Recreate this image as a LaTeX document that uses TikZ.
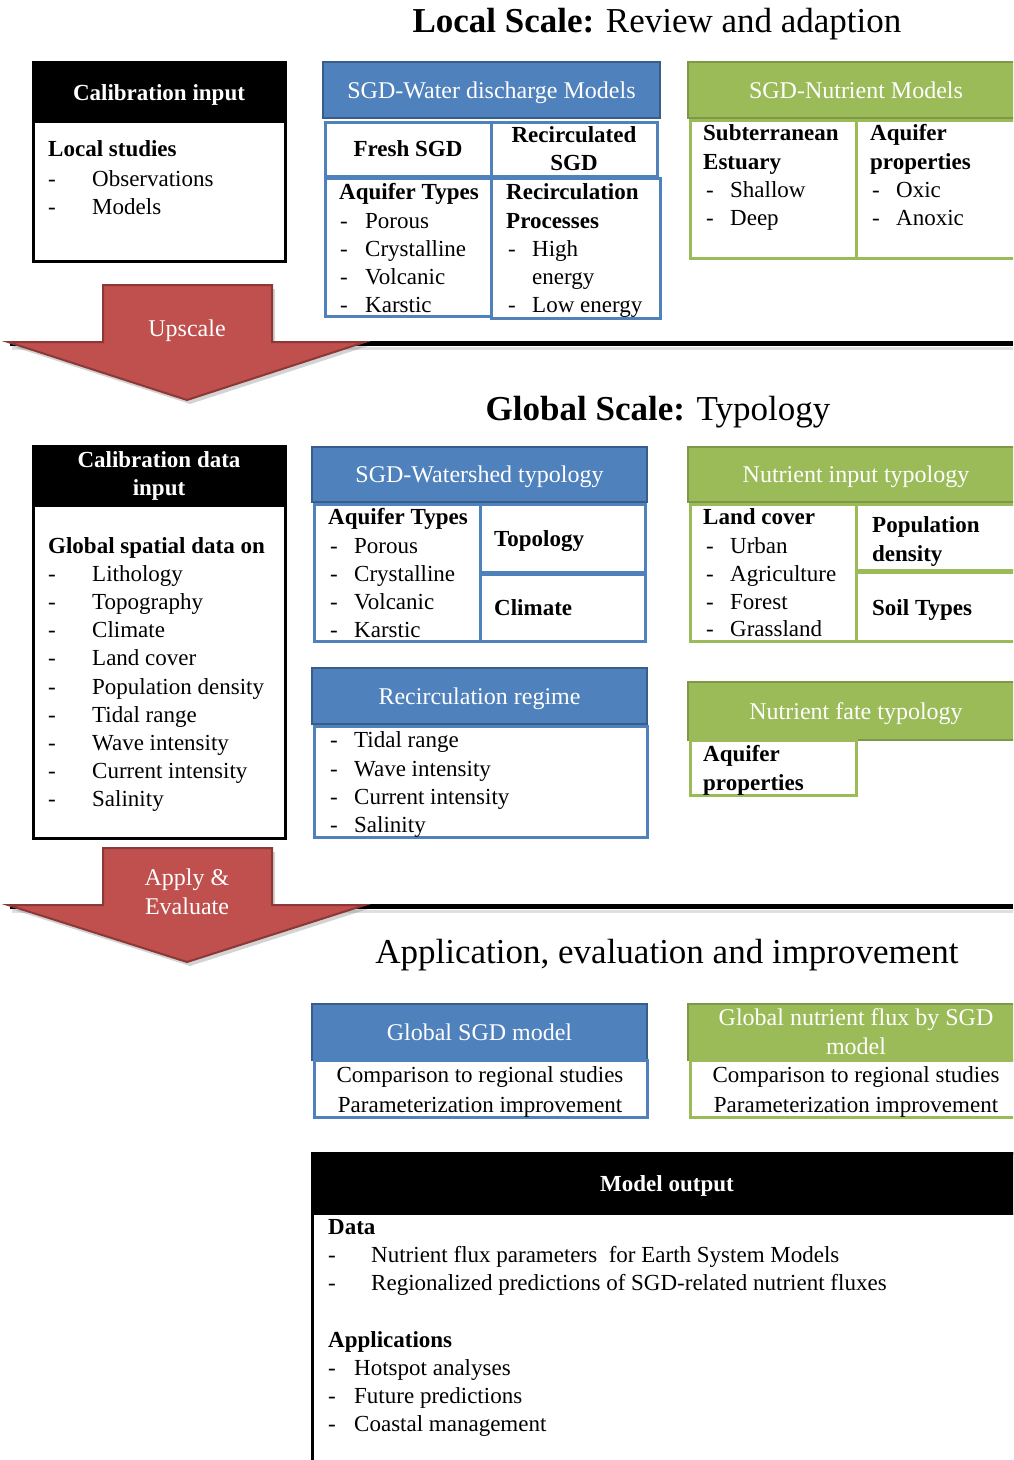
\documentclass[tikz,border=0pt]{standalone}
\usepackage{fontspec}
\setmainfont{Liberation Serif}
\usetikzlibrary{shadows}
\definecolor{blueC}{HTML}{4F81BD}
\definecolor{blueD}{HTML}{385D8A}
\definecolor{greenC}{HTML}{9BBB59}
\definecolor{greenD}{HTML}{71893F}
\definecolor{redC}{HTML}{C0504D}
\definecolor{redD}{HTML}{8C3836}
\newcommand\fsn{\fontsize{23}{28}\selectfont}
\newcommand\fsh{\fontsize{24}{29}\selectfont}
\newcommand\fst{\fontsize{35}{40}\selectfont}
\newcommand\itm[5]{\node[txt] (#1-d) at (#2,#5) {-}; \node[txt] (#1) at (#3,#5) {#4};}
\begin{document}
\begin{tikzpicture}[x=1pt,y=-1pt,
  txt/.style={font=\fsn, inner sep=0pt, anchor=base west},
  btxt/.style={font=\fsn\bfseries, inner sep=0pt, anchor=base west},
  title/.style={font=\fst, inner sep=0pt, anchor=base},
  boxbase/.style={anchor=north west, inner sep=0pt, outer sep=0pt},
  hfix/.style={text height=20pt, text depth=4pt},
  blkbox/.style={boxbase, draw=black, line width=3pt, fill=white},
  blkhdr/.style={boxbase, draw=black, line width=2pt, fill=black, text=white, font=\fsn\bfseries, align=center},
  bhdr/.style={boxbase, draw=blueD, line width=2pt, fill=blueC, text=white, font=\fsh, align=center},
  ghdr/.style={boxbase, draw=greenD!70!greenC, line width=2pt, fill=greenC, text=white, font=\fsh, align=center},
  bcell/.style={boxbase, draw=blueC, line width=3pt, fill=white, font=\fsn, align=center},
  gcell/.style={boxbase, draw=greenC, line width=3pt, fill=white, font=\fsn, align=center},
  bigarrow/.style={fill=redC, draw=redD, line width=2pt, drop shadow={opacity=0.35, shadow xshift=3pt, shadow yshift=-4pt}},
  arrtxt/.style={font=\fsh, text=white, inner sep=0pt, anchor=base},
  rule/.style={line width=5pt, black},
  ruleshadow/.style={line width=3pt, gray!25}
]
\useasboundingbox (0,0) rectangle (1013,1460);
\clip (0,0) rectangle (1013,1460);

% ---------------- Local scale ----------------
\node[title] (t1) at (657,32) {\textbf{Local Scale:} Review and adaption};

% Calibration input
\node[blkbox, minimum width=252, minimum height=199] (cib) at (33,62) {};
\node[blkhdr, hfix, minimum width=252, minimum height=60] (cih) at (33,62) {Calibration input};
\node[btxt] (ls) at (48,156) {Local studies};
\itm{obs}{48}{92}{Observations}{186}
\itm{mod}{48}{92}{Models}{214}

% SGD water discharge models
\node[bhdr, hfix, minimum width=337, minimum height=56] (wdh) at (323,62) {SGD-Water discharge Models};
\node[bcell, minimum width=166, minimum height=54, font=\fsn\bfseries] (fresh) at (325,122) {Fresh SGD};
\node[bcell, minimum width=166, minimum height=54, font=\fsn\bfseries] (recsgd) at (491,122) {Recirculated\\SGD};
\node[bcell, minimum width=166, minimum height=138] (aqc) at (325,178) {};
\node[bcell, minimum width=169, minimum height=140] (rpc) at (491,178) {};
\node[btxt] (aqt) at (339,199) {Aquifer Types};
\itm{w1}{340}{365}{Porous}{228}
\itm{w2}{340}{365}{Crystalline}{256}
\itm{w3}{340}{365}{Volcanic}{284}
\itm{w4}{340}{365}{Karstic}{312}
\node[btxt] (rp1) at (506,199) {Recirculation};
\node[btxt] (rp2) at (506,228) {Processes};
\itm{r1}{508}{532}{High}{256}
\node[txt] (r1b) at (532,284) {energy};
\itm{r2}{508}{532}{Low energy}{312}

% SGD nutrient models
\node[ghdr, hfix, minimum width=336, minimum height=56] (nmh) at (688,62) {SGD-Nutrient Models};
\node[gcell, minimum width=166, minimum height=138] (sec) at (690,120) {};
\node[gcell, minimum width=166, minimum height=138] (apc) at (856,120) {};
\node[btxt] (se1) at (703,140) {Subterranean};
\node[btxt] (se2) at (703,169) {Estuary};
\itm{s1}{706}{730}{Shallow}{197}
\itm{s2}{706}{730}{Deep}{225}
\node[btxt] (ap1) at (870,140) {Aquifer};
\node[btxt] (ap2) at (870,169) {properties};
\itm{o1}{872}{896}{Oxic}{197}
\itm{o2}{872}{896}{Anoxic}{225}

% Upscale arrow + rule
\draw[ruleshadow] (12,348) -- (1013,348);
\draw[rule] (10,343) -- (1013,343);
\draw[bigarrow] (103,285) -- (272,285) -- (272,342) -- (365,342) -- (187,400) -- (8,342) -- (103,342) -- cycle;
\node[arrtxt] (up) at (187,336) {Upscale};

% ---------------- Global scale ----------------
\node[title] (t2) at (658,420) {\textbf{Global Scale:} Typology};

% Calibration data input
\node[blkbox, minimum width=252, minimum height=392] (cdb) at (33,446) {};
\node[blkhdr, minimum width=252, minimum height=60] (cdh) at (33,446) {Calibration data\\input};
\node[btxt] (gsd) at (48,553) {Global spatial data on};
\itm{g1}{48}{92}{Lithology}{581}
\itm{g2}{48}{92}{Topography}{609}
\itm{g3}{48}{92}{Climate}{637}
\itm{g4}{48}{92}{Land cover}{665}
\itm{g5}{48}{92}{Population density}{694}
\itm{g6}{48}{92}{Tidal range}{722}
\itm{g7}{48}{92}{Wave intensity}{750}
\itm{g8}{48}{92}{Current intensity}{778}
\itm{g9}{48}{92}{Salinity}{806}

% SGD watershed typology
\node[bhdr, hfix, minimum width=335, minimum height=55] (wsh) at (312,447) {SGD-Watershed typology};
\node[bcell, minimum width=166, minimum height=137] (wsa) at (314,504) {};
\node[bcell, minimum width=165, minimum height=68] (wst) at (480,504) {};
\node[bcell, minimum width=165, minimum height=67] (wsc) at (480,574) {};
\node[btxt] (wsat) at (328,524) {Aquifer Types};
\itm{a1}{330}{354}{Porous}{553}
\itm{a2}{330}{354}{Crystalline}{581}
\itm{a3}{330}{354}{Volcanic}{609}
\itm{a4}{330}{354}{Karstic}{637}
\node[btxt] (topo) at (494,546) {Topology};
\node[btxt] (clim) at (494,615) {Climate};

% Nutrient input typology
\node[ghdr, hfix, minimum width=336, minimum height=55] (nih) at (688,447) {Nutrient input typology};
\node[gcell, minimum width=166, minimum height=137] (nil) at (690,504) {};
\node[gcell, minimum width=166, minimum height=66] (nip) at (856,504) {};
\node[gcell, minimum width=166, minimum height=69] (nis) at (856,572) {};
\node[btxt] (lc) at (703,524) {Land cover};
\itm{c1}{706}{730}{Urban}{553}
\itm{c2}{706}{730}{Agriculture}{581}
\itm{c3}{706}{730}{Forest}{609}
\itm{c4}{706}{730}{Grassland}{636}
\node[btxt] (pd1) at (872,532) {Population};
\node[btxt] (pd2) at (872,561) {density};
\node[btxt] (soil) at (872,615) {Soil Types};

% Recirculation regime
\node[bhdr, hfix, minimum width=335, minimum height=56] (rrh) at (312,668) {Recirculation regime};
\node[bcell, minimum width=333, minimum height=111] (rrb) at (314,726) {};
\itm{rr1}{330}{354}{Tidal range}{747}
\itm{rr2}{330}{354}{Wave intensity}{776}
\itm{rr3}{330}{354}{Current intensity}{804}
\itm{rr4}{330}{354}{Salinity}{832}

% Nutrient fate typology
\node[ghdr, hfix, minimum width=336, minimum height=58] (nfh) at (688,682) {Nutrient fate typology};
\node[gcell, minimum width=166, minimum height=55] (nfc) at (690,740) {};
\node[btxt] (nf1) at (703,761) {Aquifer};
\node[btxt] (nf2) at (703,790) {properties};

% Apply & Evaluate arrow + rule
\draw[ruleshadow] (12,911) -- (1013,911);
\draw[rule] (10,906) -- (1013,906);
\draw[bigarrow] (103,848) -- (272,848) -- (272,905) -- (365,905) -- (187,962) -- (8,905) -- (103,905) -- cycle;
\node[arrtxt] (ap) at (187,885) {Apply \&};
\node[arrtxt] (ev) at (187,914) {Evaluate};

% ---------------- Application ----------------
\node[title] (t3) at (667,963) {Application, evaluation and improvement};

\node[bhdr, hfix, minimum width=335, minimum height=56] (gsh) at (312,1004) {Global SGD model};
\node[bcell, minimum width=333, minimum height=57] (gsb) at (314,1060) {};
\node[txt, anchor=base] (gs1) at (480,1082) {Comparison to regional studies};
\node[txt, anchor=base] (gs2) at (480,1112) {Parameterization improvement};

\node[ghdr, minimum width=336, minimum height=56] (gnh) at (688,1004) {Global nutrient flux by SGD\\model};
\node[gcell, minimum width=334, minimum height=57] (gnb) at (690,1060) {};
\node[txt, anchor=base] (gn1) at (856,1082) {Comparison to regional studies};
\node[txt, anchor=base] (gn2) at (856,1112) {Parameterization improvement};

% Model output
\node[blkbox, minimum width=710, minimum height=340] (mob) at (312,1153) {};
\node[blkhdr, hfix, minimum width=710, minimum height=61] (moh) at (312,1153) {Model output};
\node[btxt] (data) at (328,1234) {Data};
\itm{d1}{328}{371}{Nutrient flux parameters\ \ for Earth System Models}{1262}
\itm{d2}{328}{371}{Regionalized predictions of SGD-related nutrient fluxes}{1290}
\node[btxt] (apps) at (328,1347) {Applications};
\itm{p1}{328}{354}{Hotspot analyses}{1375}
\itm{p2}{328}{354}{Future predictions}{1403}
\itm{p3}{328}{354}{Coastal management}{1431}
\end{tikzpicture}
\end{document}
